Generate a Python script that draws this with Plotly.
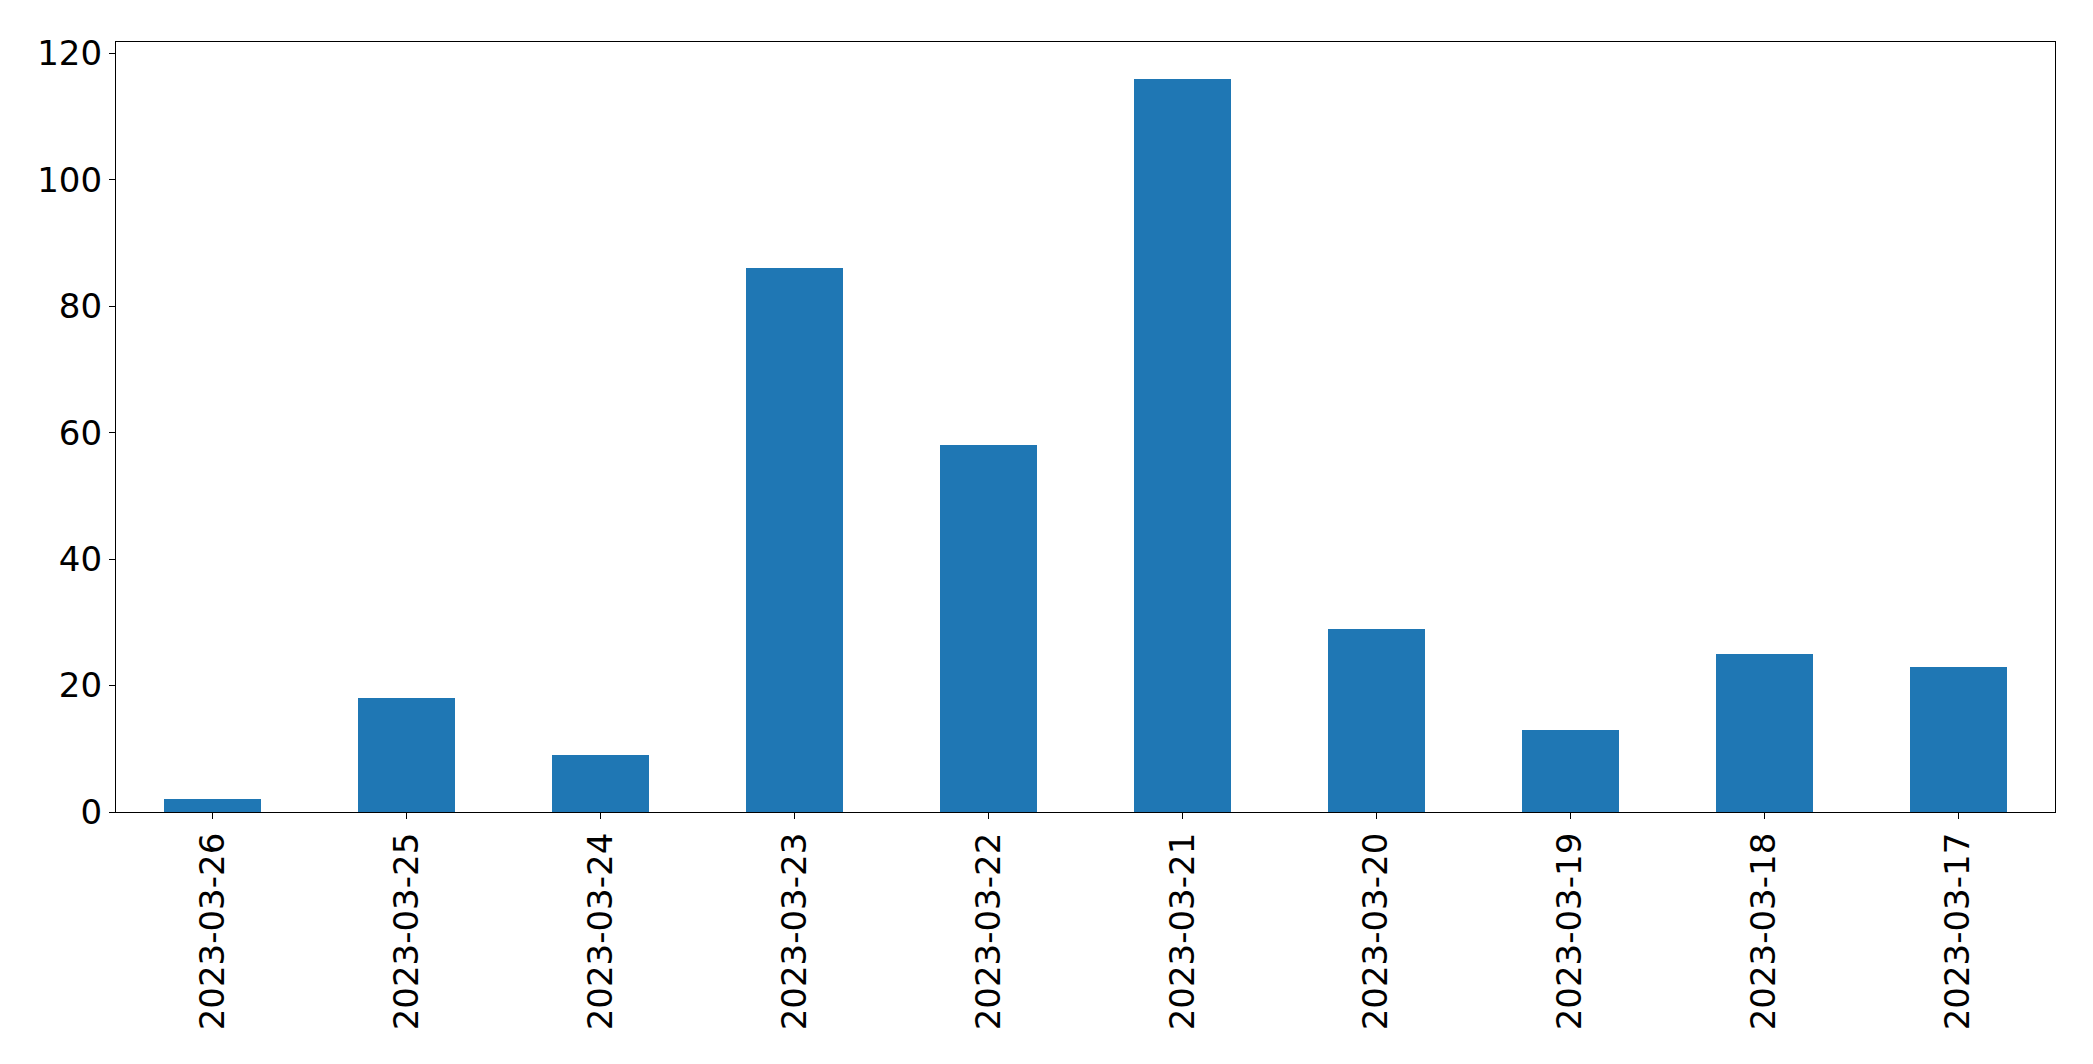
import plotly.graph_objects as go

dates = ["2023-03-26", "2023-03-25", "2023-03-24", "2023-03-23", "2023-03-22",
         "2023-03-21", "2023-03-20", "2023-03-19", "2023-03-18", "2023-03-17"]
counts = [2, 18, 9, 86, 58, 116, 29, 13, 25, 23]
y_ticks = [0, 20, 40, 60, 80, 100, 120]

fig = go.Figure(go.Bar(
    x=list(range(len(dates))), y=counts, width=0.5,
    marker=dict(color="#1f77b4", line=dict(width=0)),
))

fig.update_layout(
    width=2093, height=1064,
    margin=dict(l=108, r=46, t=34, b=260),
    paper_bgcolor="white", plot_bgcolor="white",
    font=dict(family="DejaVu Sans", size=34, color="black"),
    showlegend=False,
    bargap=0,
)
fig.update_xaxes(
    range=[-0.5, len(dates) - 0.5],
    tickmode="array", tickvals=list(range(len(dates))), ticktext=dates,
    tickangle=-90, ticks="outside", ticklen=6, tickwidth=1.2, tickcolor="black",
    showline=True, linecolor="black", linewidth=1.3, mirror=True,
    showgrid=False, zeroline=False,
)
fig.update_yaxes(
    range=[0, 121.8],
    tickmode="array", tickvals=y_ticks,
    ticks="outside", ticklen=6, tickwidth=1.2, tickcolor="black",
    showline=True, linecolor="black", linewidth=1.3, mirror=True,
    showgrid=False, zeroline=False,
)

fig.write_html("out.html")
